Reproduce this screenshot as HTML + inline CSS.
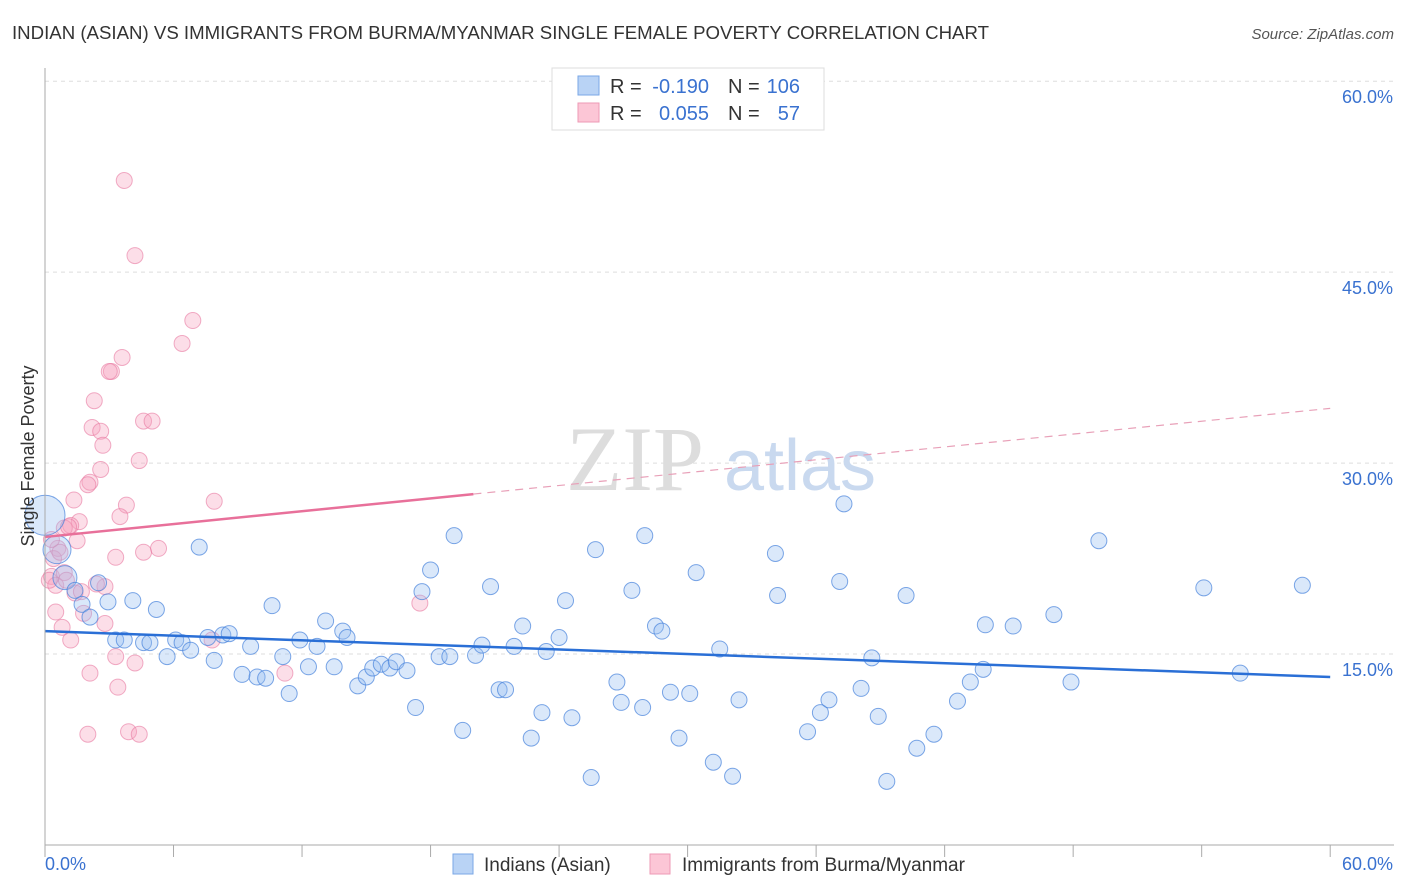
<!DOCTYPE html>
<html><head><meta charset="utf-8"><style>
body{margin:0;background:#fff;font-family:"Liberation Sans",sans-serif;}
svg{display:block}
</style></head><body>
<svg id="chart" width="1406" height="892" xmlns="http://www.w3.org/2000/svg">
<text x="12" y="39" font-size="18" fill="#333" textLength="977" lengthAdjust="spacingAndGlyphs">INDIAN (ASIAN) VS IMMIGRANTS FROM BURMA/MYANMAR SINGLE FEMALE POVERTY CORRELATION CHART</text>
<text x="1394" y="39" font-size="15" fill="#555" text-anchor="end" font-style="italic">Source: ZipAtlas.com</text>
<g id="grid"></g>
<g>
<text x="635" y="490" font-size="92" fill="#ddd" font-family="Liberation Serif" text-anchor="middle">ZIP</text>
<text x="800" y="490" font-size="72" fill="#c9d9ef" text-anchor="middle">atlas</text>
</g>
<g id="pts"></g>
<g id="lines"></g>
<g id="axes"></g>
<text transform="translate(34,456) rotate(-90)" font-size="18" fill="#333" text-anchor="middle">Single Female Poverty</text>
<g>
<rect x="552" y="68" width="272" height="62" fill="#fff" stroke="#ddd"/>
<rect x="578" y="76" width="21" height="19" fill="#b9d3f5" stroke="#7aa7e6"/>
<rect x="578" y="103" width="21" height="19" fill="#fcc6d6" stroke="#ee9ab5"/>
<text x="610" y="93" font-size="20" fill="#333">R =</text>
<text x="709" y="93" font-size="20" fill="#3a72d0" text-anchor="end">-0.190</text>
<text x="728" y="93" font-size="20" fill="#333">N =</text>
<text x="800" y="93" font-size="20" fill="#3a72d0" text-anchor="end">106</text>
<text x="610" y="120" font-size="20" fill="#333">R =</text>
<text x="709" y="120" font-size="20" fill="#3a72d0" text-anchor="end">0.055</text>
<text x="728" y="120" font-size="20" fill="#333">N =</text>
<text x="800" y="120" font-size="20" fill="#3a72d0" text-anchor="end">57</text>
</g>
<g>
<rect x="453" y="854" width="20" height="20" fill="#b9d3f5" stroke="#7aa7e6"/>
<text x="484" y="871" font-size="19" fill="#333">Indians (Asian)</text>
<rect x="650" y="854" width="20" height="20" fill="#fcc6d6" stroke="#ee9ab5"/>
<text x="682" y="871" font-size="19" fill="#333">Immigrants from Burma/Myanmar</text>
</g>
</svg>
<script>
const yTicks=[15,30,45,60];
const yTickLabels=["15.0%","30.0%","45.0%","60.0%"];
const xTickLabels=["0.0%","60.0%"];
const blueX=[0,0.56,0.93,1.4,1.73,2.1,2.5,2.94,3.3,3.7,4.1,4.6,4.9,5.2,5.7,6.1,6.4,6.8,7.2,7.6,7.9,8.3,8.6,9.2,9.6,9.9,10.3,10.6,11.1,11.4,11.9,12.3,12.7,13.1,13.5,13.9,14.1,14.6,15.0,15.3,15.7,16.1,16.4,16.9,17.3,17.6,18.0,18.4,18.9,19.1,19.5,20.1,20.4,20.8,21.2,21.5,21.9,22.3,22.7,23.2,23.4,24.0,24.3,24.6,25.5,25.7,26.7,26.9,27.4,27.9,28.0,28.5,28.8,29.2,29.6,30.1,30.4,31.2,31.5,32.1,32.4,34.1,34.2,35.6,36.2,36.6,37.1,37.3,38.1,38.6,38.9,39.3,40.2,40.7,41.5,42.6,43.2,43.8,43.9,45.2,47.1,47.9,49.2,54.1,55.8,58.7];
const blueY=[25.9,23.2,21.0,20.0,18.9,17.9,20.6,19.1,16.1,16.1,19.2,15.9,15.9,18.5,14.8,16.1,15.9,15.3,23.4,16.3,14.5,16.5,16.6,13.4,15.6,13.2,13.1,18.8,14.8,11.9,16.1,14.0,15.6,17.6,14.0,16.8,16.3,12.5,13.2,13.9,14.2,13.9,14.4,13.7,10.8,19.9,21.6,14.8,14.8,24.3,9.0,14.9,15.7,20.3,12.2,12.2,15.6,17.2,8.4,10.4,15.2,16.3,19.2,10.0,5.3,23.2,12.8,11.2,20.0,10.8,24.3,17.2,16.8,12.0,8.4,11.9,21.4,6.5,15.4,5.4,11.4,22.9,19.6,8.9,10.4,11.4,20.7,26.8,12.3,14.7,10.1,5.0,19.6,7.6,8.7,11.3,12.8,13.8,17.3,17.2,18.1,12.8,23.9,20.2,13.5,20.4];
const blueSize=[20,14,12];
const pinkX=[3.7,4.2,6.9,6.4,3.6,3.1,3.0,2.3,4.6,5.0,2.2,2.6,2.7,4.4,2.6,2.1,2.0,1.35,7.9,3.8,3.5,1.6,1.2,0.9,1.5,0.6,5.3,4.6,3.3,0.3,0.9,0.5,1.4,2.8,17.5,0.5,1.8,0.8,2.8,1.2,7.8,3.3,4.2,2.1,11.2,3.4,2.0,3.9,4.4,0.4,0.7,1.0,0.2,1.7,2.4,0.3,1.1];
const pinkY=[52.2,46.3,41.2,39.4,38.3,37.2,37.2,34.9,33.3,33.3,32.8,32.5,31.4,30.2,29.5,28.5,28.3,27.1,27.0,26.7,25.8,25.4,25.1,24.9,23.9,23.3,23.3,23.0,22.6,21.1,21.4,20.4,19.8,20.3,19.0,18.3,18.2,17.1,17.4,16.1,16.1,14.8,14.3,13.5,13.5,12.4,8.7,8.9,8.7,22.5,23.0,20.8,20.8,19.9,20.5,24.0,25.0];
const blueTrend=[16.8,13.2];
const pinkTrend=[24.2,34.3];
const pinkSolidEnd=20;
const X=v=>45+v*21.42, Y=v=>845-v*12.73;
const NS="http://www.w3.org/2000/svg";
function mk(tag,attrs,parent){const e=document.createElementNS(NS,tag);for(const k in attrs)e.setAttribute(k,attrs[k]);parent.appendChild(e);return e;}
const grid=document.getElementById('grid'),axes=document.getElementById('axes'),pts=document.getElementById('pts'),lines=document.getElementById('lines');
yTicks.forEach((t,i)=>{
 const l=mk('line',{x1:45,x2:1394,y1:Y(t),y2:Y(t),stroke:'#ddd','stroke-dasharray':'4,4'},grid);
 
 
 const tx=mk('text',{x:1393,y:Y(t)+22,'font-size':18,fill:'#3a72d0','text-anchor':'end'},axes);
 tx.textContent=yTickLabels[i];
 
 
});
mk('line',{x1:45,x2:45,y1:68,y2:845,stroke:'#aaa'},axes);
mk('line',{x1:45,x2:1394,y1:845,y2:845,stroke:'#aaa'},axes);
for(let i=0;i<=10;i++){const t=mk('line',{x1:X(i*6),x2:X(i*6),y1:845,y2:857,stroke:'#aaa'},axes);
 
 }
const xl0=mk('text',{x:45,y:870,'font-size':18,fill:'#3a72d0'},axes);xl0.textContent=xTickLabels[0];


const xl1=mk('text',{x:1393,y:870,'font-size':18,fill:'#3a72d0','text-anchor':'end'},axes);xl1.textContent=xTickLabels[1];


pinkX.forEach((x,i)=>{const c=mk('circle',{cx:X(x),cy:Y(pinkY[i]),r:8,fill:'rgba(246,160,188,0.35)',stroke:'rgba(232,120,160,0.6)','stroke-width':1},pts);
 
 });
blueX.forEach((x,i)=>{const c=mk('circle',{cx:X(x),cy:Y(blueY[i]),r:blueSize[i]||8,fill:'rgba(150,190,240,0.35)',stroke:'rgba(70,130,220,0.7)','stroke-width':1},pts);
 
 });
const bt=mk('line',{x1:X(0),y1:Y(blueTrend[0]),x2:X(60),y2:Y(blueTrend[1]),stroke:'#2a6fd6','stroke-width':2.5},lines);


const pm=pinkTrend[0]+(pinkTrend[1]-pinkTrend[0])*pinkSolidEnd/60;
const pt=mk('line',{x1:X(0),y1:Y(pinkTrend[0]),x2:X(pinkSolidEnd),y2:Y(pm),stroke:'#e8709a','stroke-width':2.5},lines);


const pd=mk('line',{x1:X(pinkSolidEnd),y1:Y(pm),x2:X(60),y2:Y(pinkTrend[1]),stroke:'#e8a0b8','stroke-width':1.2,'stroke-dasharray':'8,6'},lines);


</script>
</body></html>
